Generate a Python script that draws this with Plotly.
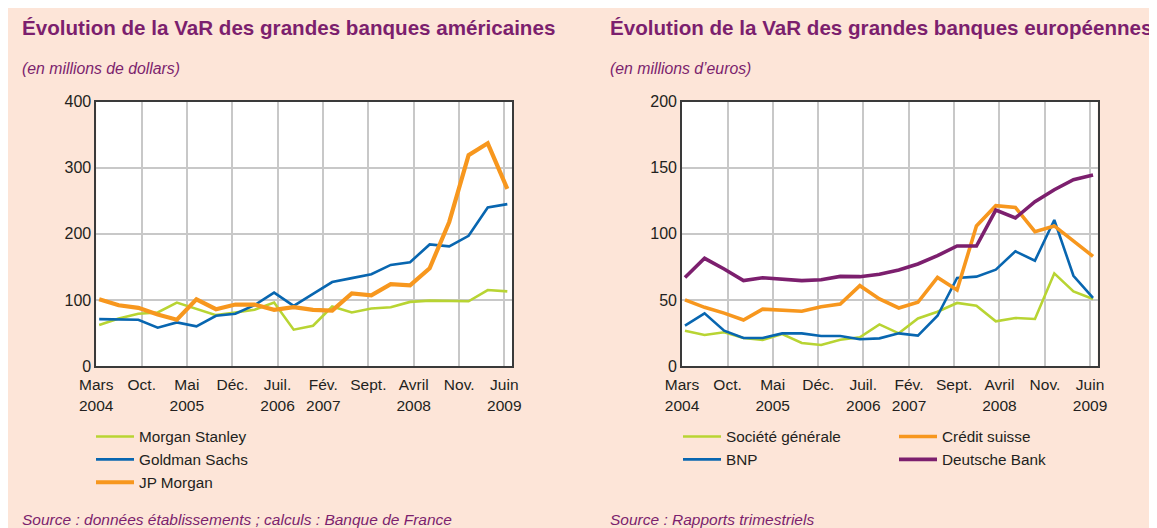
import plotly.graph_objects as go

# Quarterly observations, March 2004 -> June 2009
dates = [f"{y}-{m:02d}-15" for y in range(2004, 2010) for m in (3, 6, 9, 12)][:22]

tick_dates = ["2004-03-01", "2004-10-01", "2005-05-01", "2005-12-01", "2006-07-01",
              "2007-02-01", "2007-09-01", "2008-04-01", "2008-11-01", "2009-06-01"]
tick_text = ["Mars<br>2004", "Oct.<br> ", "Mai<br>2005", "Déc.<br> ", "Juil.<br>2006",
             "Fév.<br>2007", "Sept.<br> ", "Avril<br>2008", "Nov.<br> ", "Juin<br>2009"]

# US banks (millions of dollars)
morgan_stanley = [62, 72, 79, 81, 96, 87, 77, 81, 85, 96, 55, 61, 90, 81, 87, 89, 97, 99, 99, 98, 115, 113]
goldman_sachs = [71, 70, 70, 58, 66, 60, 76, 79, 92, 111, 91, 109, 127, 133, 139, 153, 157, 184, 181, 197, 240, 245]
jp_morgan = [101, 92, 88, 78, 70, 101, 86, 93, 93, 85, 89, 85, 84, 110, 107, 124, 122, 148, 218, 319, 337, 268]

# European banks (millions of euros)
societe_generale = [26.7, 23.5, 25.5, 21.2, 19.7, 24.2, 17.4, 15.9, 19.9, 21.7, 31.5, 24.7, 36, 41.1, 47.7, 45.6, 33.8, 36.3, 35.6, 70.1, 56.5, 50.7]
bnp = [30.5, 39.8, 26.7, 21.2, 21.2, 24.7, 24.7, 22.7, 22.7, 20.2, 20.9, 24.7, 23, 38, 66.6, 67.6, 72.9, 86.8, 79.7, 110.5, 68.3, 51.5]
credit_suisse = [50, 44.4, 40, 34.8, 43, 41.9, 41.4, 44.9, 46.9, 60.8, 50.7, 43.9, 48.2, 67, 57.5, 106, 121.3, 120, 101.6, 106, 94.8, 83]
deutsche_bank = [67, 81.5, 73.4, 64.6, 66.8, 65.8, 64.6, 65.3, 67.8, 67.6, 69.4, 72.6, 77.2, 83.5, 90.8, 90.8, 118, 112, 124.3, 133.4, 141, 144.5]

GREEN = "#B8D433"
BLUE = "#0866B0"
ORANGE = "#F7971E"
PURPLE = "#7C1F6E"
PEACH = "#FDE5D8"
TXT = "#231F20"
GRID = "#C8C8C8"
FONT = "Liberation Sans, Arial, sans-serif"

W, H = 1157, 528
OFF = 8  # the page body margin places the figure 8 px right and down

def px(x):
    return (x - OFF) / W

def py(y):
    return 1 - (y - OFF) / H

fig = go.Figure()

def add(x, y, name, color, width, xa, ya, legend):
    fig.add_trace(go.Scatter(x=x, y=y, name=name, mode="lines",
                             line=dict(color=color, width=width),
                             xaxis=xa, yaxis=ya, legend=legend, hoverinfo="skip"))

add(dates, morgan_stanley, "Morgan Stanley", GREEN, 2.6, "x", "y", "legend")
add(dates, goldman_sachs, "Goldman Sachs", BLUE, 2.6, "x", "y", "legend")
add(dates, jp_morgan, "JP Morgan", ORANGE, 4.2, "x", "y", "legend")

add(dates, societe_generale, "Société générale", GREEN, 2.6, "x2", "y2", "legend2")
add(dates, bnp, "BNP", BLUE, 2.6, "x2", "y2", "legend2")
add(dates, credit_suisse, "Crédit suisse", ORANGE, 3.6, "x2", "y2", "legend3")
add(dates, deutsche_bank, "Deutsche Bank", PURPLE, 3.6, "x2", "y2", "legend3")

xcommon = dict(type="date", range=["2004-03-01", "2009-07-07"], tickvals=tick_dates, ticktext=tick_text,
               showgrid=True, gridcolor=GRID, gridwidth=2, showline=True, linecolor="#3A3A3A",
               linewidth=1.6, mirror=True, ticks="", zeroline=False, automargin=False,
               ticklabelstandoff=4,
               tickfont=dict(family=FONT, size=15.5, color=TXT))
ycommon = dict(showgrid=True, gridcolor=GRID, gridwidth=2, showline=True, linecolor="#3A3A3A",
               linewidth=1.6, mirror=True, ticks="", zeroline=False, automargin=False,
               tickfont=dict(family=FONT, size=16, color=TXT))

ytop, ybot = 101.7, 366
fig.update_layout(
    width=W, height=H,
    margin=dict(l=0, r=0, t=0, b=0, autoexpand=False),
    paper_bgcolor=PEACH,
    plot_bgcolor="white",
    showlegend=True,
    xaxis=dict(domain=[px(96.2), px(512)], anchor="y", **xcommon),
    yaxis=dict(domain=[py(ybot), py(ytop)], anchor="x", range=[0, 400], tickvals=[0, 100, 200, 300, 400], **ycommon),
    xaxis2=dict(domain=[px(682), px(1097.7)], anchor="y2", **xcommon),
    yaxis2=dict(domain=[py(ybot), py(ytop)], anchor="x2", range=[0, 200], tickvals=[0, 50, 100, 150, 200], **ycommon),
)

legfont = dict(family=FONT, size=15.3, color=TXT)
common_leg = dict(orientation="v", bgcolor="rgba(0,0,0,0)", borderwidth=0, font=legfont,
                  itemwidth=38, xanchor="left", yanchor="top", tracegroupgap=0)
fig.update_layout(
    legend=dict(x=px(91), y=py(420), **common_leg),
    legend2=dict(x=px(678), y=py(420), **common_leg),
    legend3=dict(x=px(894), y=py(420), **common_leg),
)

TITLE_FONT = dict(family=FONT, size=20.6, color=PURPLE)
SUB_FONT = dict(family=FONT, size=15.8, color=PURPLE)
SRC_FONT = dict(family=FONT, size=15.5, color=PURPLE)

def note(x, y, text, font):
    fig.add_annotation(x=px(x), y=py(y), xref="paper", yref="paper", text=text, showarrow=False,
                       xanchor="left", yanchor="middle", font=font)

note(20, 28, "<b>Évolution de la VaR des grandes banques américaines</b>", TITLE_FONT)
note(608, 28, "<b>Évolution de la VaR des grandes banques européennes</b>", TITLE_FONT)
note(20, 68, "<i>(en millions de dollars)</i>", SUB_FONT)
note(608, 68, "<i>(en millions d’euros)</i>", SUB_FONT)
note(20, 519, "<i>Source : données établissements ; calculs : Banque de France</i>", SRC_FONT)
note(608, 519, "<i>Source : Rapports trimestriels</i>", SRC_FONT)

fig.write_html("out.html")
